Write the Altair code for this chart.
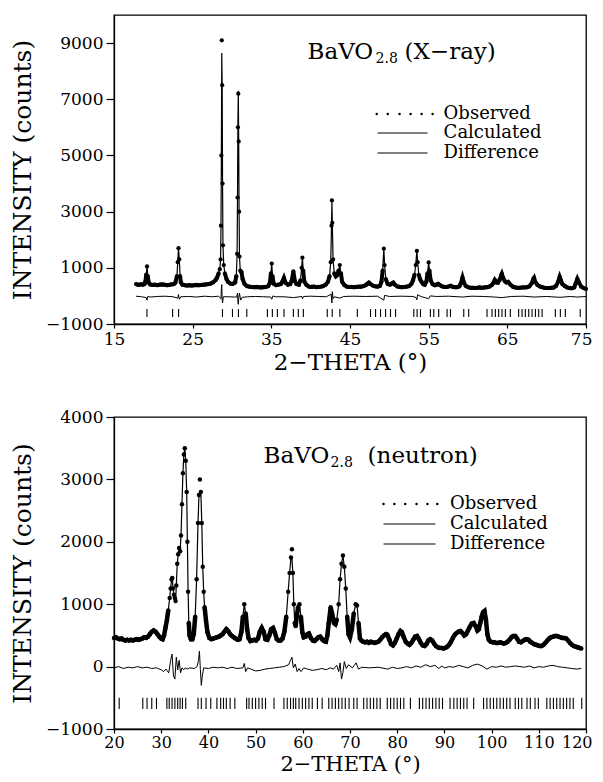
import altair as alt
import pandas as pd

FONT = "DejaVu Serif"

# ---------------- X-ray panel (top) ----------------
XR_OBS = [
    (17.8, 420), (18.1, 390), (18.4, 410), (18.7, 400), (18.9, 430), (19.0, 520), (19.1, 760),
    (19.2, 1050), (19.3, 700), (19.4, 480), (19.6, 410), (19.9, 390), (20.2, 400), (20.5, 380),
    (20.8, 400), (21.1, 410), (21.4, 400), (21.7, 380), (22.0, 390), (22.3, 410), (22.6, 420),
    (22.8, 470), (23.0, 700), (23.1, 1200), (23.2, 1700), (23.3, 1300), (23.4, 700), (23.5, 480),
    (23.7, 400), (24.0, 380), (24.3, 370), (24.6, 380), (24.9, 370), (25.2, 380), (25.5, 390),
    (25.8, 380), (26.1, 390), (26.4, 400), (26.7, 410), (27.0, 420), (27.3, 440), (27.6, 480),
    (27.9, 560), (28.1, 650), (28.3, 800), (28.45, 950), (28.55, 1300), (28.6, 2500),
    (28.65, 5000), (28.7, 9100), (28.75, 7500), (28.8, 4000), (28.85, 1800), (28.95, 1100),
    (29.1, 800), (29.3, 600), (29.5, 500), (29.8, 440), (30.1, 430), (30.4, 480), (30.55, 700),
    (30.65, 1500), (30.7, 3500), (30.75, 6000), (30.8, 7200), (30.85, 5500), (30.9, 3000),
    (30.95, 1400), (31.05, 900), (31.2, 850), (31.35, 600), (31.6, 420), (31.9, 350), (32.2, 330),
    (32.5, 320), (32.8, 310), (33.1, 320), (33.4, 310), (33.7, 300), (34.0, 310), (34.3, 320),
    (34.6, 350), (34.8, 450), (34.95, 800), (35.05, 1150), (35.15, 700), (35.3, 430), (35.6, 380),
    (35.9, 400), (36.2, 420), (36.4, 500), (36.6, 640), (36.8, 470), (37.1, 400), (37.4, 420),
    (37.6, 550), (37.8, 870), (38.0, 520), (38.2, 420), (38.5, 400), (38.7, 550), (38.85, 1000),
    (38.95, 1360), (39.05, 900), (39.2, 500), (39.5, 380), (39.8, 330), (40.1, 320), (40.4, 330),
    (40.7, 310), (41.0, 320), (41.3, 330), (41.6, 350), (41.9, 400), (42.2, 500), (42.4, 700),
    (42.55, 1200), (42.65, 2500), (42.7, 3400), (42.75, 2600), (42.85, 1300), (43.0, 800),
    (43.2, 700), (43.4, 750), (43.55, 900), (43.7, 1100), (43.85, 800), (44.0, 500), (44.3, 380),
    (44.6, 330), (44.9, 320), (45.2, 320), (45.5, 310), (45.8, 320), (46.1, 330), (46.4, 330),
    (46.7, 350), (47.0, 380), (47.2, 430), (47.4, 475), (47.6, 420), (47.9, 370), (48.2, 340),
    (48.5, 330), (48.8, 360), (49.0, 500), (49.15, 900), (49.3, 1680), (49.4, 1100), (49.55, 600),
    (49.8, 420), (50.1, 400), (50.3, 440), (50.5, 475), (50.7, 400), (51.0, 340), (51.3, 320),
    (51.6, 310), (51.9, 320), (52.2, 330), (52.5, 350), (52.8, 420), (53.0, 550), (53.2, 750),
    (53.35, 1100), (53.5, 1600), (53.6, 1200), (53.75, 750), (53.9, 600), (54.1, 500), (54.3, 420),
    (54.5, 400), (54.7, 500), (54.85, 800), (55.0, 1190), (55.1, 900), (55.25, 550), (55.5, 420),
    (55.8, 380), (56.0, 400), (56.2, 430), (56.4, 390), (56.7, 340), (57.0, 320), (57.3, 320),
    (57.6, 340), (57.8, 360), (58.0, 330), (58.3, 310), (58.6, 310), (58.9, 340), (59.1, 450),
    (59.3, 654), (59.45, 500), (59.7, 360), (60.0, 310), (60.3, 290), (60.6, 290), (60.9, 280),
    (61.2, 290), (61.5, 300), (61.8, 290), (62.1, 300), (62.4, 310), (62.7, 330), (63.0, 380),
    (63.2, 450), (63.4, 570), (63.6, 480), (63.8, 470), (64.0, 560), (64.2, 720), (64.3, 786),
    (64.45, 650), (64.7, 520), (64.9, 480), (65.1, 500), (65.4, 400), (65.7, 330), (66.0, 300),
    (66.3, 290), (66.6, 290), (66.9, 300), (67.2, 300), (67.5, 310), (67.8, 340), (68.1, 450),
    (68.3, 600), (68.4, 643), (68.55, 500), (68.8, 400), (69.1, 340), (69.4, 310), (69.7, 290),
    (70.0, 280), (70.3, 280), (70.6, 290), (70.9, 300), (71.2, 360), (71.45, 500), (71.65, 679),
    (71.8, 560), (72.0, 420), (72.3, 350), (72.6, 300), (72.9, 280), (73.2, 270), (73.5, 300),
    (73.7, 450), (73.9, 607), (74.1, 480), (74.4, 330), (74.7, 280), (75.0, 250),
]
XR_CALC_TOPS = {28.7: 8650, 30.8: 7300}
XR_DIFF = [
    (17.8, -10), (18.5, -30), (19.1, -60), (19.2, -150), (19.3, -20), (19.6, -40), (20.5, -20),
    (21.5, -10), (22.5, -30), (23.1, -80), (23.2, 50), (23.3, -120), (23.5, -30), (24.5, -20),
    (25.5, -40), (26.5, -10), (27.5, -30), (28.3, -10), (28.6, -100), (28.65, 250), (28.7, 400),
    (28.75, -150), (28.8, -250), (28.9, -30), (29.5, -30), (30.3, -40), (30.6, -40), (30.7, 100),
    (30.75, -200), (30.8, -300), (30.85, -100), (30.95, 100), (31.1, -150), (31.3, -50),
    (32.0, -30), (33.0, -20), (34.0, -30), (34.9, -40), (35.05, -120), (35.2, 0), (35.5, -30),
    (36.6, -30), (37.8, -60), (38.9, -20), (38.95, -100), (39.1, -20), (40.0, -10), (41.0, -20),
    (42.0, -30), (42.6, 60), (42.7, -250), (42.75, 150), (42.85, -100), (43.0, -30), (43.7, -80),
    (44.2, -20), (45.5, -10), (47.0, -20), (48.5, -10), (49.3, -150), (49.4, 20), (50.0, -20),
    (51.5, -10), (53.0, -20), (53.4, -60), (53.5, -140), (53.6, 40), (54.0, -20), (55.0, -100),
    (55.2, 0), (56.0, -20), (57.5, -10), (59.3, -40), (60.5, -10), (62.0, -20), (63.4, -40),
    (64.3, -60), (65.5, -20), (67.0, -10), (68.4, -40), (70.0, -20), (71.7, -50), (73.0, -20),
    (73.9, -40), (75.0, -20),
]
XR_REFL = [
    19.19, 22.45, 23.21, 28.79, 30.06, 30.82, 31.88, 34.50, 35.13, 35.77, 36.61, 37.80, 38.43,
    39.07, 42.11, 42.74, 43.71, 45.93, 47.61, 48.25, 48.88, 49.52, 50.15, 50.79, 53.11, 53.53,
    53.96, 55.22, 55.65, 56.28, 57.34, 57.77, 59.46, 60.09, 62.42, 63.05, 63.48, 63.90, 64.32,
    64.75, 65.38, 66.44, 66.87, 67.29, 67.72, 68.14, 68.57, 68.99, 69.42, 71.10, 71.74, 72.37,
    74.27,
]
XR_X_TICKS = [15, 20, 25, 30, 35, 40, 45, 50, 55, 60, 65, 70, 75]
XR_Y_TICKS = [-1000, 0, 1000, 2000, 3000, 4000, 5000, 6000, 7000, 8000, 9000]

# ---------------- Neutron panel (bottom) ----------------
NE_OBS = [
    (20.0, 460), (20.4, 470), (20.8, 450), (21.2, 440), (21.6, 450), (22.0, 430), (22.4, 420),
    (22.8, 430), (23.2, 420), (23.6, 430), (24.0, 420), (24.4, 430), (24.8, 440), (25.2, 430),
    (25.6, 440), (26.0, 450), (26.4, 470), (26.8, 460), (27.2, 480), (27.6, 520), (28.0, 560),
    (28.4, 580), (28.8, 560), (29.2, 520), (29.6, 480), (30.0, 450), (30.3, 440), (30.6, 500),
    (30.9, 620), (31.2, 740), (31.5, 900), (31.8, 1100), (32.0, 1250), (32.2, 1400),
    (32.35, 1420), (32.5, 1250), (32.7, 1150), (32.9, 1100), (33.05, 1050), (33.2, 1300),
    (33.4, 1650), (33.6, 1800), (33.8, 1900), (34.0, 1850), (34.2, 2100), (34.4, 2600),
    (34.6, 3100), (34.8, 3400), (35.0, 3500), (35.2, 3300), (35.4, 2800), (35.55, 2000),
    (35.7, 1200), (35.85, 700), (36.0, 500), (36.3, 440), (36.6, 440), (36.9, 520), (37.2, 800),
    (37.5, 1400), (37.8, 2300), (38.0, 2750), (38.2, 3000), (38.4, 2800), (38.6, 2300),
    (38.8, 1600), (39.0, 1200), (39.2, 950), (39.5, 730), (39.8, 550), (40.2, 460), (40.6, 440),
    (41.0, 450), (41.4, 460), (41.8, 470), (42.2, 480), (42.6, 500), (43.0, 520), (43.4, 560),
    (43.8, 600), (44.2, 570), (44.6, 520), (45.0, 490), (45.4, 470), (45.8, 450), (46.2, 430),
    (46.6, 440), (47.0, 560), (47.3, 800), (47.6, 1000), (47.9, 850), (48.2, 600), (48.5, 460),
    (48.9, 410), (49.3, 420), (49.7, 430), (50.1, 420), (50.5, 450), (50.9, 560), (51.3, 620),
    (51.7, 560), (52.1, 440), (52.5, 430), (52.9, 500), (53.3, 600), (53.7, 620), (54.1, 540),
    (54.5, 440), (54.9, 420), (55.3, 420), (55.7, 450), (56.1, 560), (56.5, 800), (56.9, 1200),
    (57.2, 1500), (57.5, 1750), (57.7, 1880), (57.9, 1500), (58.1, 1000), (58.3, 700),
    (58.5, 650), (58.7, 800), (59.0, 950), (59.3, 1000), (59.6, 800), (59.9, 550), (60.2, 470),
    (60.6, 480), (61.0, 520), (61.3, 530), (61.7, 460), (62.1, 420), (62.5, 410), (62.9, 440),
    (63.3, 470), (63.7, 480), (64.1, 440), (64.5, 410), (64.9, 400), (65.2, 500), (65.5, 700),
    (65.9, 950), (66.2, 850), (66.6, 700), (66.9, 680), (67.2, 750), (67.6, 1000), (67.9, 1400),
    (68.2, 1650), (68.5, 1780), (68.8, 1600), (69.1, 1250), (69.4, 800), (69.7, 520), (70.0, 470),
    (70.4, 600), (70.8, 850), (71.2, 1000), (71.5, 980), (71.8, 700), (72.1, 450), (72.4, 420),
    (72.8, 400), (73.2, 390), (73.6, 400), (74.0, 380), (74.4, 400), (74.8, 390), (75.2, 380),
    (75.6, 390), (76.0, 400), (76.4, 430), (76.8, 470), (77.2, 500), (77.6, 520), (77.9, 510),
    (78.3, 440), (78.7, 360), (79.1, 340), (79.5, 380), (79.9, 450), (80.3, 520), (80.7, 570),
    (81.0, 550), (81.4, 470), (81.8, 400), (82.2, 370), (82.6, 350), (83.0, 380), (83.4, 430),
    (83.8, 480), (84.2, 490), (84.6, 440), (85.0, 380), (85.4, 340), (85.8, 330), (86.2, 360),
    (86.6, 420), (87.0, 440), (87.4, 420), (87.8, 370), (88.2, 330), (88.6, 310), (89.0, 300),
    (89.4, 300), (89.8, 290), (90.2, 300), (90.6, 320), (91.0, 350), (91.4, 400), (91.8, 460),
    (92.2, 510), (92.6, 540), (93.0, 560), (93.4, 570), (93.8, 540), (94.2, 500), (94.6, 520),
    (95.0, 580), (95.4, 640), (95.8, 690), (96.2, 700), (96.6, 650), (97.0, 580), (97.3, 600),
    (97.6, 700), (97.9, 800), (98.2, 870), (98.5, 890), (98.8, 750), (99.1, 520), (99.4, 430),
    (99.8, 400), (100.2, 390), (100.6, 390), (101.0, 380), (101.4, 380), (101.8, 390),
    (102.2, 380), (102.6, 370), (103.0, 380), (103.4, 400), (103.8, 430), (104.2, 470),
    (104.6, 490), (105.0, 490), (105.4, 450), (105.8, 400), (106.2, 390), (106.6, 410),
    (107.0, 430), (107.4, 440), (107.8, 430), (108.2, 400), (108.6, 380), (109.0, 360),
    (109.4, 350), (109.8, 340), (110.2, 330), (110.6, 330), (111.0, 350), (111.4, 380),
    (111.8, 420), (112.2, 450), (112.6, 470), (113.0, 480), (113.4, 490), (113.8, 490),
    (114.2, 480), (114.6, 470), (115.0, 460), (115.4, 460), (115.8, 450), (116.2, 420),
    (116.6, 380), (117.0, 350), (117.4, 330), (117.8, 320), (118.2, 310), (118.6, 300),
    (119.0, 290),
]
NE_CALC_TOPS = {38.2: 2780, 57.7: 1720}
NE_DIFF = [
    (20, -20), (21, 0), (22, -30), (23, -10), (24, -20), (25, 0), (26, -20), (27, -10), (28, -30),
    (29, -20), (30, -50), (30.5, -80), (31, -40), (31.6, -100), (32.0, 100), (32.3, 200),
    (32.6, -150), (32.9, -200), (33.2, 150), (33.5, -50), (33.8, 100), (34.1, -100), (34.4, -20),
    (34.8, -50), (35.1, -20), (35.5, -40), (36, -20), (37, -30), (37.6, 0), (37.9, 100),
    (38.1, 250), (38.3, -50), (38.5, -300), (38.7, -150), (39.0, -20), (40, -30), (41, -10),
    (42, -20), (43, -10), (44, -30), (45, -10), (46, -30), (47.3, -20), (47.6, 50), (47.9, -80),
    (48.3, -20), (49, -40), (50, -70), (51, -60), (52, -40), (53, -30), (54, -20), (55, -10),
    (56, 0), (57, 30), (57.4, 100), (57.7, 150), (58, -20), (58.4, 40), (58.8, -80), (59.2, -30),
    (59.6, -80), (60.2, -20), (61, -40), (62, -60), (63, -50), (64, -30), (65, -50), (65.8, -20),
    (66.5, -40), (67.2, 20), (67.6, -80), (67.9, 60), (68.2, -200), (68.5, -100), (68.8, 80),
    (69.2, -30), (69.7, 30), (70.5, -20), (71.3, 60), (71.8, -40), (72.5, -10), (74, -20),
    (76, -10), (78, -40), (79, -10), (80, -30), (81, -20), (82, 0), (83, -20), (84, 10),
    (85, -10), (86, 30), (87, 0), (88, 20), (88.8, -30), (89.5, 10), (90, -20), (91, 0),
    (92, -10), (93, 20), (94, 0), (95, -20), (96, 20), (97, 40), (98, 10), (99, -40), (100, 0),
    (101, -10), (102, 10), (103, -10), (104, 0), (105, 10), (106, 0), (107, -10), (108, 10),
    (109, -20), (110, 0), (111, -10), (112, 10), (113, 20), (114, 0), (115, -10), (116, -20),
    (117, -30), (118, -40), (119, -30),
]
NE_REFL = [
    21.1, 26.1, 27.0, 28.0, 29.0, 31.2, 31.7, 32.3, 32.9, 33.5, 34.0, 34.5, 35.2, 37.8, 38.5,
    39.5, 40.5, 41.8, 42.6, 43.2, 43.8, 44.6, 45.6, 48.1, 48.6, 49.3, 50.0, 50.7, 51.4, 52.1,
    53.9, 56.0, 56.7, 57.4, 58.0, 58.5, 59.2, 59.9, 60.6, 61.3, 62.0, 63.1, 64.1, 65.5, 66.2,
    66.9, 67.6, 68.3, 69.0, 69.8, 70.8, 71.5, 72.9, 73.6, 74.3, 75.0, 75.7, 76.4, 77.9, 78.6,
    79.3, 80.0, 80.7, 81.4, 82.8, 84.7, 85.4, 86.1, 86.8, 87.5, 88.2, 88.9, 89.6, 91.2, 92.0,
    92.7, 93.4, 94.1, 94.8, 96.2, 98.3, 99.0, 99.7, 100.4, 101.1, 101.8, 102.5, 103.2, 103.9,
    105.0, 105.7, 106.4, 107.5, 108.2, 109.2, 109.9, 111.7, 112.4, 113.1, 113.8, 114.5, 115.2,
    115.9, 116.6, 117.3, 119.1,
]
NE_X_TICKS = [20, 25, 30, 35, 40, 45, 50, 55, 60, 65, 70, 75, 80, 85, 90, 95, 100, 105, 110, 115, 120]
NE_Y_TICKS = [-1000, -500, 0, 500, 1000, 1500, 2000, 2500, 3000, 3500, 4000]

LEGEND_LABELS = ["Observed", "Calculated", "Difference"]

X_TITLE = "2−THETA (°)"
Y_TITLE = "INTENSITY (counts)"


def band_runs(obs, limit):
    """Split the low-intensity (background) part of the observed points into runs,
    so the dense-dot band is drawn thick only where the reference shows it thick."""
    rows, seg, inside = [], 0, False
    for t, v in obs:
        if v <= limit:
            if not inside:
                seg += 1
                inside = True
            rows.append((t, v, seg))
        else:
            inside = False
    return pd.DataFrame(rows, columns=["tth", "I", "seg"])


def make_panel(obs, tops, diff, refl, xdom, xticks, xmajor, ydom, yticks, ymajor,
               refl_y, leg_dots, leg_line, leg_text_x, leg_y, title_x, title_y,
               title_words, width, height, dot_size, band_width, band_limit, xstyle):
    last = xdom[1]
    xaxis = alt.Axis(values=xticks, format="d", grid=False, labelFlush=False,
                     labelOverlap=False,
                     labelExpr=f"({xmajor}) ? datum.label : ''",
                     labelAlign={"condition": {"test": f"datum.value === {last}", "value": "right"},
                                 "value": "center"},
                     labelOffset={"condition": {"test": f"datum.value === {last}", "value": 6},
                                  "value": 0},
                     tickSize={"condition": {"test": xmajor, "value": 4}, "value": 3},
                     labelFontSize=xstyle[0], labelPadding=xstyle[1],
                     titleFontSize=xstyle[2], titlePadding=xstyle[3])
    yaxis = alt.Axis(values=yticks, format="d", grid=False, labelFlush=False,
                     labelOverlap=False,
                     labelExpr=f"({ymajor}) ? datum.label : ''",
                     tickSize={"condition": {"test": ymajor, "value": 8}, "value": 4})
    xs = alt.Scale(domain=xdom, nice=False, zero=False)
    ys = alt.Scale(domain=ydom, nice=False, zero=False)

    def X(f):
        return alt.X(f, type="quantitative", scale=xs, axis=xaxis, title=X_TITLE)

    def Y(f):
        return alt.Y(f, type="quantitative", scale=ys, axis=yaxis, title=Y_TITLE)

    obs_df = pd.DataFrame(obs, columns=["tth", "I"])
    calc_df = pd.DataFrame([(t, tops.get(t, v)) for t, v in obs], columns=["tth", "I"])
    diff_df = pd.DataFrame(diff, columns=["tth", "I"])
    refl_df = pd.DataFrame({"tth": refl})

    band = alt.Chart(band_runs(obs, band_limit)).mark_line(
        color="black", strokeWidth=band_width).encode(X("tth"), Y("I"), detail="seg:N")
    points = alt.Chart(obs_df).mark_circle(color="black", size=dot_size, opacity=1).encode(X("tth"), Y("I"))
    calc = alt.Chart(calc_df).mark_line(color="black", strokeWidth=1.2).encode(X("tth"), Y("I"))
    dline = alt.Chart(diff_df).mark_line(color="black", strokeWidth=1).encode(X("tth"), Y("I"))
    ticks = alt.Chart(refl_df).mark_rule(color="black", strokeWidth=1.1).encode(
        X("tth"), y=alt.datum(refl_y[0]), y2=alt.datum(refl_y[1]))

    dots_df = pd.DataFrame({"tth": leg_dots, "I": [leg_y[0]] * len(leg_dots)})
    ldots = alt.Chart(dots_df).mark_circle(color="black", size=6, opacity=1).encode(X("tth"), Y("I"))
    lines_df = pd.DataFrame({"tth": [leg_line[0]] * 2, "tth2": [leg_line[1]] * 2, "I": leg_y[1:]})
    llines = alt.Chart(lines_df).mark_rule(color="black", strokeWidth=1.2).encode(
        X("tth"), x2="tth2", y=Y("I"))
    text_df = pd.DataFrame({"tth": [leg_text_x] * 3, "I": leg_y, "label": LEGEND_LABELS})
    ltext = alt.Chart(text_df).mark_text(font=FONT, fontSize=18, align="left", baseline="middle",
                                          color="black").encode(X("tth"), Y("I"), text="label")

    t1 = alt.Chart().mark_text(font=FONT, fontSize=23, align="left", baseline="alphabetic",
                               color="black", text=title_words[0]).encode(
        x=alt.datum(title_x), y=alt.datum(title_y))
    t2 = alt.Chart().mark_text(font=FONT, fontSize=14, align="left", baseline="alphabetic",
                               color="black", text=title_words[1], dx=title_words[3], dy=4).encode(
        x=alt.datum(title_x), y=alt.datum(title_y))
    t3 = alt.Chart().mark_text(font=FONT, fontSize=23, align="left", baseline="alphabetic",
                               color="black", text=title_words[2], dx=title_words[4]).encode(
        x=alt.datum(title_x), y=alt.datum(title_y))

    return alt.layer(band, points, calc, dline, ticks, ldots, llines, ltext, t1, t2, t3).properties(
        width=width, height=height)


top = make_panel(
    XR_OBS, XR_CALC_TOPS, XR_DIFF, XR_REFL, [15, 75], XR_X_TICKS, "datum.value % 10 === 5",
    [-1000, 10000], XR_Y_TICKS, "abs(datum.value) % 2000 === 1000",
    refl_y=(-470, -750),
    leg_dots=[48.4, 49.8, 51.3, 52.7, 54.1, 55.5], leg_line=(48.5, 54.85), leg_text_x=56.9,
    leg_y=[6476, 5799, 5087],
    title_x=39.6, title_y=8434, title_words=["BaVO", "2.8", "(X−ray)", 68, 97],
    width=472, height=309, dot_size=18, band_width=4, band_limit=900,
    xstyle=(17, 3, 23, 4))

bottom = make_panel(
    NE_OBS, NE_CALC_TOPS, NE_DIFF, NE_REFL, [20, 120], NE_X_TICKS, "datum.value % 10 === 0",
    [-1000, 4000], NE_Y_TICKS, "datum.value % 1000 === 0",
    refl_y=(-500, -680),
    leg_dots=[77.1, 79.4, 81.7, 84.1, 86.4, 88.5], leg_line=(77.1, 88.1), leg_text_x=91.2,
    leg_y=[2606, 2285, 1965],
    title_x=51.7, title_y=3263, title_words=["BaVO", "2.8", "(neutron)", 67, 104],
    width=472, height=312, dot_size=20, band_width=4.5, band_limit=950,
    xstyle=(16, 1, 21, 3))

chart = alt.vconcat(top, bottom, spacing=93, bounds="flush").properties(
    padding={"left": 2, "top": 6, "right": 0, "bottom": 0}
).configure_view(
    stroke="black", strokeWidth=1.3
).configure_axis(
    domainColor="black", domainWidth=1.3, tickColor="black", tickWidth=1.2,
    labelFont=FONT, labelColor="black",
    titleFont=FONT, titleFontWeight="normal", titleColor="black",
)
chart = chart.configure_axisY(titlePadding=9.5, titleFontSize=25, labelFontSize=17,
                              labelPadding=3)

chart.save("out.html", embed_options={"renderer": "svg", "actions": False})
